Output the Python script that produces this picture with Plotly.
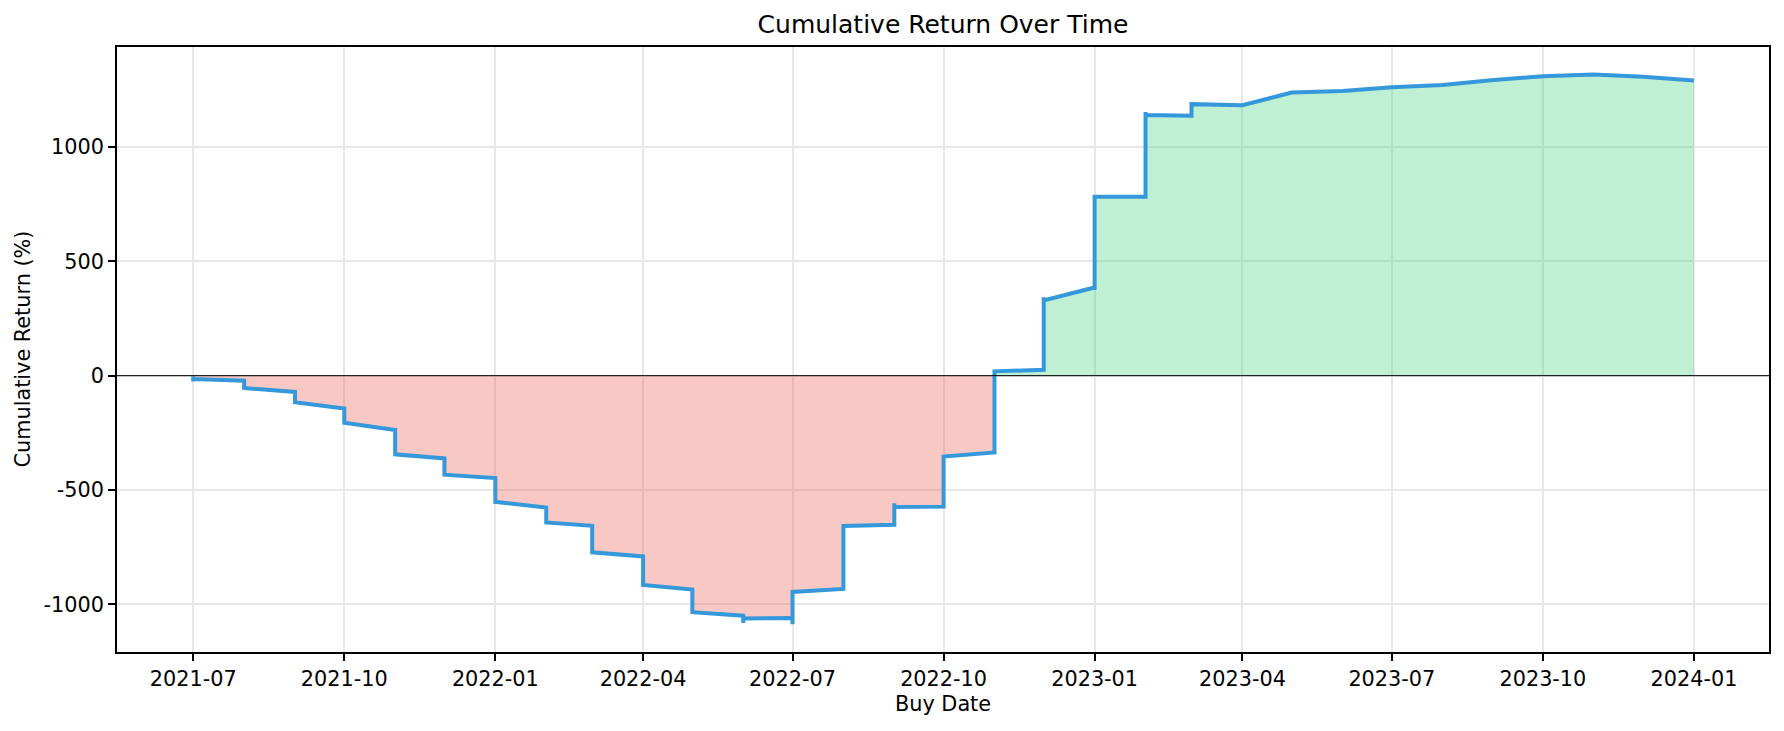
import plotly.graph_objects as go

# ---- data ----
buy_dates = [
    "2021-07-01", "2021-07-01", "2021-07-01",
    "2021-08-01", "2021-08-01", "2021-08-01",
    "2021-09-01", "2021-09-01", "2021-09-01",
    "2021-10-01", "2021-10-01",
    "2021-11-01", "2021-11-01",
    "2021-12-01", "2021-12-01",
    "2022-01-01", "2022-01-01",
    "2022-02-01", "2022-02-01",
    "2022-03-01", "2022-03-01",
    "2022-04-01", "2022-04-01",
    "2022-05-01", "2022-05-01",
    "2022-06-01", "2022-06-01", "2022-06-01",
    "2022-07-01", "2022-07-01", "2022-07-01",
    "2022-08-01", "2022-08-01",
    "2022-09-01", "2022-09-01", "2022-09-01",
    "2022-10-01", "2022-10-01",
    "2022-11-01", "2022-11-01",
    "2022-12-01", "2022-12-01", "2022-12-01",
    "2023-01-01", "2023-01-01", "2023-01-01",
    "2023-02-01", "2023-02-01", "2023-02-01",
    "2023-03-01", "2023-03-01", "2023-03-01",
    "2023-04-01",
    "2023-05-01",
    "2023-06-01",
    "2023-07-01",
    "2023-08-01",
    "2023-09-01",
    "2023-10-01",
    "2023-11-01",
    "2023-12-01",
    "2024-01-01",
]
cumulative_return = [
    -2, -26, -15,
    -22, -62, -54,
    -71, -124, -116,
    -144, -206,
    -238, -344,
    -362, -433,
    -448, -552,
    -577, -642,
    -657, -773,
    -791, -916,
    -936, -1035,
    -1050, -1082, -1062,
    -1060, -1088, -946,
    -933, -658,
    -652, -558, -575,
    -573, -354,
    -336, 19,
    26, 343, 329,
    386, 375, 783,
    783, 1154, 1140,
    1137, 1128, 1188,
    1183,
    1239,
    1245,
    1262,
    1272,
    1294,
    1310,
    1318,
    1308,
    1291,
]

x_tick_vals = ["2021-07-01", "2021-10-01", "2022-01-01", "2022-04-01", "2022-07-01",
               "2022-10-01", "2023-01-01", "2023-04-01", "2023-07-01", "2023-10-01",
               "2024-01-01"]
x_tick_text = ["2021-07", "2021-10", "2022-01", "2022-04", "2022-07", "2022-10",
               "2023-01", "2023-04", "2023-07", "2023-10", "2024-01"]
y_tick_vals = [-1000, -500, 0, 500, 1000]
y_tick_text = ["-1000", "-500", "0", "500", "1000"]

neg_part = [min(v, 0) for v in cumulative_return]
pos_part = [max(v, 0) for v in cumulative_return]

FONT = "DejaVu Sans"

# the page body has an 8px default margin; size the figure so it fills the window
FIG_W, FIG_H = 1776, 723

fig = go.Figure()
fig.add_trace(go.Scatter(x=buy_dates, y=neg_part, mode="lines", fill="tozeroy",
                         fillcolor="rgba(231,76,60,0.3)", line=dict(width=0),
                         hoverinfo="skip", showlegend=False))
fig.add_trace(go.Scatter(x=buy_dates, y=pos_part, mode="lines", fill="tozeroy",
                         fillcolor="rgba(46,204,113,0.3)", line=dict(width=0),
                         hoverinfo="skip", showlegend=False))
fig.add_trace(go.Scatter(x=buy_dates, y=cumulative_return, mode="lines",
                         line=dict(color="#3498db", width=4), showlegend=False,
                         name="Cumulative Return"))

fig.add_shape(type="line", xref="paper", yref="y", x0=0, x1=1, y0=0, y1=0,
              line=dict(color="black", width=1), layer="above")

axis_common = dict(
    showline=True, linecolor="black", linewidth=1.7, mirror=True,
    ticks="outside", ticklen=7, tickwidth=1.7, tickcolor="black",
    showgrid=True, gridcolor="#e8e8e8", gridwidth=1.5,
    zeroline=False, automargin=False,
    tickfont=dict(family=FONT, size=20.8, color="black"),
)

fig.update_layout(
    width=FIG_W, height=FIG_H,
    margin=dict(l=109, r=15, t=39, b=79, autoexpand=False),
    paper_bgcolor="white", plot_bgcolor="white",
    font=dict(family=FONT, color="black"),
    title=dict(text="Cumulative Return Over Time", x=0.5, xref="paper",
               y=1 - 16.5 / FIG_H, yref="container", yanchor="middle", xanchor="center",
               font=dict(family=FONT, size=25, color="black")),
    xaxis=dict(range=["2021-05-15 14:00", "2024-02-15 17:00"], type="date",
               tickvals=x_tick_vals, ticktext=x_tick_text, **axis_common),
    yaxis=dict(range=[-1209, 1438], tickvals=y_tick_vals, ticktext=y_tick_text,
               **axis_common),
    annotations=[
        dict(text="Buy Date", xref="paper", yref="paper", x=0.5, y=-0.086,
             xanchor="center", yanchor="middle", showarrow=False,
             font=dict(family=FONT, size=20.8, color="black")),
        dict(text="Cumulative Return (%)", xref="paper", yref="paper", x=-0.0575, y=0.5,
             xanchor="center", yanchor="middle", textangle=-90, showarrow=False,
             font=dict(family=FONT, size=20.8, color="black")),
    ],
)

fig.write_html("out.html")
